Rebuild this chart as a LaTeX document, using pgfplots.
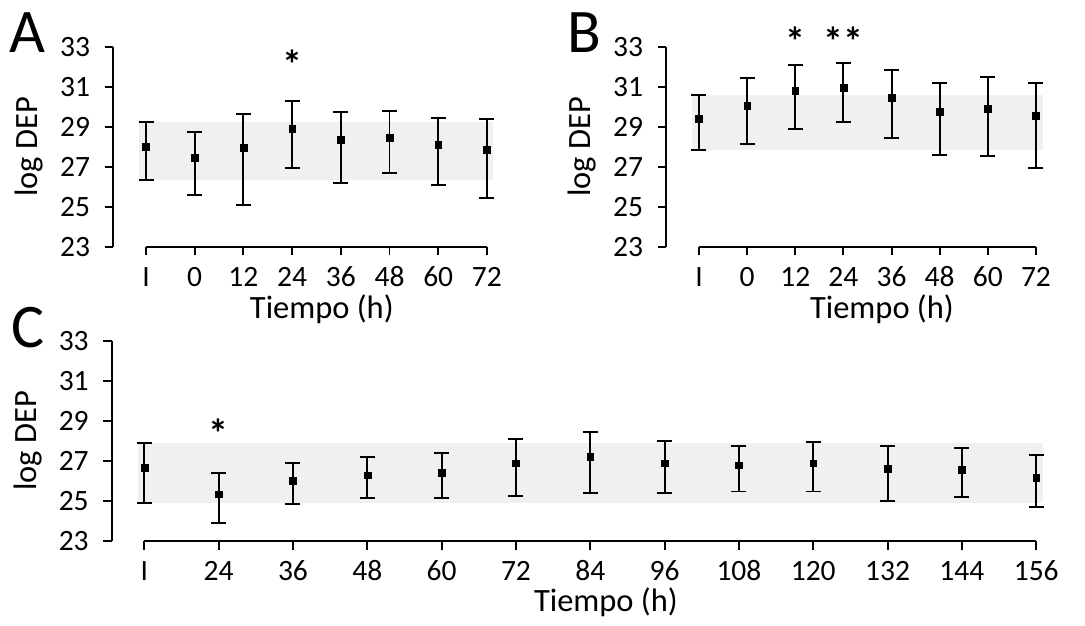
\documentclass[border=0pt]{standalone}
\usepackage{fontspec}
\setmainfont{Carlito}
\usepackage{pgfplots}
\pgfplotsset{compat=1.18}
\usepackage{pgfplotstable}
\definecolor{band}{RGB}{240,240,240}

\pgfplotstableread{
x y lo hi
0 28.03 26.33 29.25
1 27.45 25.58 28.73
2 27.95 25.12 29.63
3 28.93 26.95 30.32
4 28.37 26.20 29.77
5 28.48 26.72 29.78
6 28.12 26.12 29.47
7 27.87 25.47 29.40
}\dataA

\pgfplotstableread{
x y lo hi
0 29.43 27.87 30.58
1 30.08 28.15 31.45
2 30.80 28.92 32.12
3 30.97 29.23 32.22
4 30.47 28.45 31.87
5 29.78 27.62 31.18
6 29.93 27.55 31.48
7 29.57 26.95 31.18
}\dataB

\pgfplotstableread{
x y lo hi
0 26.66 24.93 27.92
1 25.35 23.90 26.42
2 26.01 24.88 26.91
3 26.29 25.16 27.22
4 26.42 25.16 27.42
5 26.89 25.26 28.10
6 27.22 25.43 28.44
7 26.89 25.40 28.02
8 26.79 25.48 27.77
9 26.89 25.48 27.97
10 26.61 25.01 27.77
11 26.56 25.23 27.65
12 26.19 24.73 27.30
}\dataC

\newcommand{\fs}{\fontsize{29.5}{34}\selectfont}
\newcommand{\fl}{\fontsize{32.5}{38}\selectfont}
\newcommand{\fa}{\fontsize{40}{44}\selectfont\bfseries}

\tikzset{ast/.style={font=\fa, yshift=-7pt}}

\pgfplotsset{
  panel/.style={
    scale only axis,
    anchor=south west,
    height=200pt,
    ymin=23, ymax=33,
    ytick={23,25,27,29,31,33},
    axis lines*=left,
    x axis line style={draw=none},
    y axis line style={line width=1.9pt},
    every tick/.style={black, line width=1.9pt},
    major tick length=8.5pt,
    tick align=outside,
    clip=false,
    tick label style={font=\fs},
    yticklabel style={xshift=-11pt},
    xticklabel style={anchor=base, inner sep=0pt, yshift=-31.5pt},
    label style={font=\fl, inner sep=0pt},
    /pgf/number format/assume math mode=true,
    ylabel={log DEP},
    ylabel style={at={([xshift=-84pt]axis description cs:0,0.5)}, anchor=center},
    xlabel={Tiempo (h)},
  },
  eb/.style={black, only marks, mark=square*, mark size=3.4pt,
    error bars/.cd, y dir=both, y explicit,
    error bar style={line width=1.9pt},
    error mark options={rotate=90, mark size=7.5pt, line width=1.9pt}},
}

\begin{document}
\begin{tikzpicture}
\path (0,0) rectangle (1085pt,626pt);

% Panel A
\begin{axis}[panel, at={(113pt,379pt)}, width=380pt,
  xmin=-0.678, xmax=7.125,
  xtick={0,...,7}, xticklabels={I,0,12,24,36,48,60,72},
  xlabel style={at={([yshift=-72pt]axis cs:3.61,23)}, anchor=base}]
\addplot[draw=none, fill=band, forget plot] coordinates {(-0.14,26.33) (7.13,26.33) (7.13,29.25) (-0.14,29.25)};
\addplot[black, line width=1.9pt, forget plot] coordinates {(0,23) (7,23)};
\addplot[eb] table[x=x, y=y, y error plus expr=\thisrow{hi}-\thisrow{y}, y error minus expr=\thisrow{y}-\thisrow{lo}] {\dataA};
\node[ast] at (axis cs:3,32.5) {*};
\end{axis}

% Panel B
\begin{axis}[panel, at={(666pt,379pt)}, width=377.3pt,
  xmin=-0.685, xmax=7.152,
  xtick={0,...,7}, xticklabels={I,0,12,24,36,48,60,72},
  xlabel style={at={([yshift=-72pt]axis cs:3.80,23)}, anchor=base}]
\addplot[draw=none, fill=band, forget plot] coordinates {(-0.15,27.85) (7.15,27.85) (7.15,30.59) (-0.15,30.59)};
\addplot[black, line width=1.9pt, forget plot] coordinates {(0,23) (7,23)};
\addplot[eb] table[x=x, y=y, y error plus expr=\thisrow{hi}-\thisrow{y}, y error minus expr=\thisrow{y}-\thisrow{lo}] {\dataB};
\node[ast] at (axis cs:2,33.62) {*};
\node[ast] at (axis cs:3,33.62) {**};
\end{axis}

% Panel C
\begin{axis}[panel, at={(111.7pt,84.7pt)}, width=931pt, height=200.6pt,
  xmin=-0.439, xmax=12.087,
  xtick={0,...,12}, xticklabels={I,24,36,48,60,72,84,96,108,120,132,144,156},
  xticklabel style={yshift=1pt},
  xlabel style={at={([yshift=-70.5pt]axis cs:6.21,23)}, anchor=base}]
\addplot[draw=none, fill=band, forget plot] coordinates {(-0.085,24.93) (12.085,24.93) (12.085,27.92) (-0.085,27.92)};
\addplot[black, line width=1.9pt, forget plot] coordinates {(0,23) (12,23)};
\addplot[eb] table[x=x, y=y, y error plus expr=\thisrow{hi}-\thisrow{y}, y error minus expr=\thisrow{y}-\thisrow{lo}] {\dataC};
\node[ast] at (axis cs:1,28.75) {*};
\end{axis}

% panel letters
\node[anchor=base west, inner sep=0pt, font=\fontsize{62}{70}\selectfont] at (9pt,573pt) {A};
\node[anchor=base west, inner sep=0pt, font=\fontsize{62}{70}\selectfont] at (567pt,573pt) {B};
\node[anchor=base west, inner sep=0pt, font=\fontsize{62}{70}\selectfont] at (11pt,278pt) {C};
\end{tikzpicture}
\end{document}
